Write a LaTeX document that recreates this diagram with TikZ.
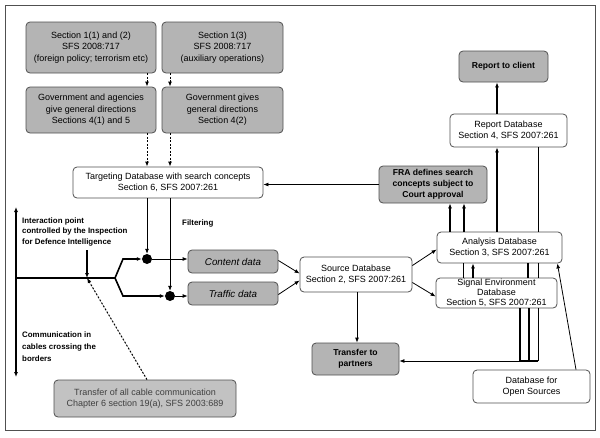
\documentclass[tikz,border=0pt]{standalone}
\usepackage{fontspec}
\setmainfont{Liberation Sans}
\usetikzlibrary{arrows.meta,calc}
\definecolor{boxgray}{HTML}{B4B4B4}
\definecolor{lightgray2}{HTML}{C2C2C2}
\definecolor{edgegray}{HTML}{505050}
\definecolor{textgray}{HTML}{404040}
\begin{document}
\begin{tikzpicture}[x=1pt,y=-1pt,
  box/.style={draw=edgegray,line width=0.8pt,rounded corners=4pt,align=center,inner sep=1pt,
    font=\fontsize{9}{11.5}\selectfont},
  gbox/.style={box,fill=boxgray},
  wbox/.style={box,fill=white},
  bbox/.style={gbox,font=\fontsize{8.6}{10.8}\selectfont\bfseries},
  ibox/.style={gbox,font=\fontsize{9.8}{11}\selectfont\itshape},
  lbl/.style={font=\fontsize{7.9}{10.5}\selectfont\bfseries,align=left,inner sep=0pt},
  arr/.style={-{Latex[length=5pt,width=4pt]}},
  thin/.style={line width=0.8pt},
  thick2/.style={line width=1.6pt},
  dsh/.style={line width=1pt,dash pattern=on 2pt off 1.5pt},
  dot/.style={circle,fill=black,inner sep=0pt,minimum size=10pt}
]
\useasboundingbox (0,0) rectangle (600,437);
\node[draw=edgegray,line width=1pt,minimum width=590pt,minimum height=425pt,inner sep=0pt] (frame) at (300,217.5) {};

% top gray boxes
\node[gbox,minimum width=130pt,minimum height=51pt] (A) at (91,47.5) {Section 1(1) and (2)\\SFS 2008:717\\(foreign policy; terrorism etc)};
\node[gbox,minimum width=121pt,minimum height=51pt] (B) at (222.5,47.5) {Section 1(3)\\SFS 2008:717\\(auxiliary operations)};
\node[gbox,minimum width=130pt,minimum height=46pt] (C) at (91,110) {Government and agencies\\give general directions\\Sections 4(1) and 5};
\node[gbox,minimum width=121pt,minimum height=46pt] (D) at (222.5,110) {Government gives\\general directions\\Section 4(2)};
\node[wbox,minimum width=190pt,minimum height=31pt] (T) at (168,182.5) {Targeting Database with search concepts\\Section 6, SFS 2007:261};

% right side
\node[bbox,minimum width=108pt,minimum height=37pt] (F) at (433,184.5) {FRA defines search\\concepts subject to\\Court approval};
\node[bbox,minimum width=89pt,minimum height=31pt] (RC) at (503.5,66.5) {Report to client};
\node[wbox,minimum width=117pt,minimum height=33pt] (RD) at (508.5,130.5) {Report Database\\Section 4, SFS 2007:261};
\node[wbox,minimum width=125pt,minimum height=31pt] (AN) at (499.5,247.5) {Analysis Database\\Section 3, SFS 2007:261};
\node[wbox,minimum width=121pt,minimum height=30pt,font=\fontsize{9}{10}\selectfont,inner sep=0pt] (SE) at (496.5,293) {Signal Environment\\Database\\Section 5, SFS 2007:261};
\node[wbox,minimum width=112pt,minimum height=35pt] (S) at (356,274.5) {Source Database\\Section 2, SFS 2007:261};
\node[bbox,minimum width=87pt,minimum height=32pt] (P) at (355.5,359) {Transfer to\\partners};
\node[wbox,minimum width=117pt,minimum height=33pt] (O) at (531.5,386.5) {Database for\\Open Sources};

% data boxes
\node[ibox,minimum width=90pt,minimum height=23pt] (CD) at (233,261.5) {Content data};
\node[ibox,minimum width=90pt,minimum height=23pt] (TD) at (233,293.5) {Traffic data};
\node[box,fill=lightgray2,text=textgray,minimum width=182pt,minimum height=37pt] (TA) at (145,398.5) {Transfer of all cable communication\\Chapter 6 section 19(a), SFS 2003:689};

% dots
\node[dot] (d1) at (147,259) {};
\node[dot] (d2) at (170,296) {};

% coordinates
\coordinate (x147) at (147,0);
\coordinate (x170) at (170,0);
\coordinate (vt) at (16,207);
\coordinate (vb) at (16,377);
\coordinate (hl) at (16,278);
\coordinate (fork) at (115,278);
\coordinate (fu) at (123,259);
\coordinate (fd) at (123,296);
\coordinate (ip) at (87,278);
\coordinate (ipt) at (87,250);
\coordinate (corner) at (538,361);

% labels
\node[lbl,anchor=north west] (L1) at (22,217.5) {Interaction point\\controlled by the Inspection\\for Defence Intelligence};
\node[lbl,anchor=west] (L2) at (182,223) {Filtering};
\node[lbl,anchor=north west,font=\fontsize{7.9}{12}\selectfont\bfseries] (L3) at (22,332) {Communication in\\cables crossing the\\borders};

% dashed arrows at top
\draw[dsh,arr] (A.south -| x147) -- (C.north -| x147);
\draw[dsh,arr] (B.south -| x170) -- (D.north -| x170);
\draw[dsh,arr] (C.south -| x147) -- (T.north -| x147);
\draw[dsh,arr] (D.south -| x170) -- (T.north -| x170);

% targeting to dots
\draw[thin,arr] (T.south -| x147) -- (d1.north);
\draw[thin,arr] (T.south -| x170) -- (d2.north);

% cable lines
\draw[thick2,{Latex[length=5pt,width=4pt]}-{Latex[length=5pt,width=4pt]}] (vt) -- (vb);
\draw[thick2] (hl) -- (fork);
\draw[thick2,arr] (fork) -- (fu) -- (d1.west);
\draw[thick2,arr] (fork) -- (fd) -- (d2.west);
\draw[thick2,arr] (ipt) -- (ip);
\draw[dsh,arr] (TA.north) ++(2,0) -- (ip);

% dots to data
\draw[thin,arr] (d1.east) -- (CD.west |- d1.east);
\draw[thin,arr] (d2.east) -- (TD.west |- d2.east);

% data to source
\draw[thin,arr] ($(CD.east)+(0,-1)$) -- ($(S.west)+(0,-1)$);
\draw[thin,arr] ($(TD.east)+(0,1)$) -- ($(S.west)+(0,6)$);

% source to analysis / signal
\draw[thin,arr] ($(S.east)+(0,-9)$) -- ($(AN.west)+(0,2)$);
\draw[thin,arr] ($(S.east)+(0,8)$) -- ($(SE.west)+(0,3.5)$);

% source to partners
\draw[thin,arr] (S.south) ++(1,0) -- (P.north -| 357,0);

% FRA to targeting
\draw[thin,arr] (F.west) -- (F.west -| T.east);

% analysis to FRA
\draw[thick2,arr] (AN.north -| 450,0) -- (F.south -| 450,0);
\draw[thick2,arr] (AN.north -| 464,0) -- (F.south -| 464,0);
% analysis to report DB, report DB to client
\draw[thick2,arr] (AN.north -| 497,0) -- (RD.south -| 497,0);
\draw[thick2,arr] (RD.north -| 497,0) -- (RC.south -| 497,0);
% report DB line down
\draw[thin] (RD.south -| corner) -- (AN.north -| corner);
\draw[thin] (AN.south -| corner) -- (SE.north -| corner);
\draw[thin] (SE.south -| corner) -- (corner);
% between analysis and signal
\draw[thin] (AN.south -| 463,0) -- (SE.north -| 463,0);
\draw[thick2,arr] (SE.north -| 473,0) -- (AN.south -| 473,0);
\draw[thick2] (AN.south -| 528,0) -- (SE.north -| 528,0);
% signal to partners
\draw[thick2] (SE.south -| 520,0) -- (520,361);
\draw[thick2] (SE.south -| 529,0) -- (529,361);
\draw[thin,arr] (corner) -- (P.east |- corner);
\draw[thick2] (520,361) -- (corner);
% open sources to analysis
\draw[thin,arr] (O.north -| 576,0) -- ($(AN.south east)+(-5,0)$);
\end{tikzpicture}
\end{document}
